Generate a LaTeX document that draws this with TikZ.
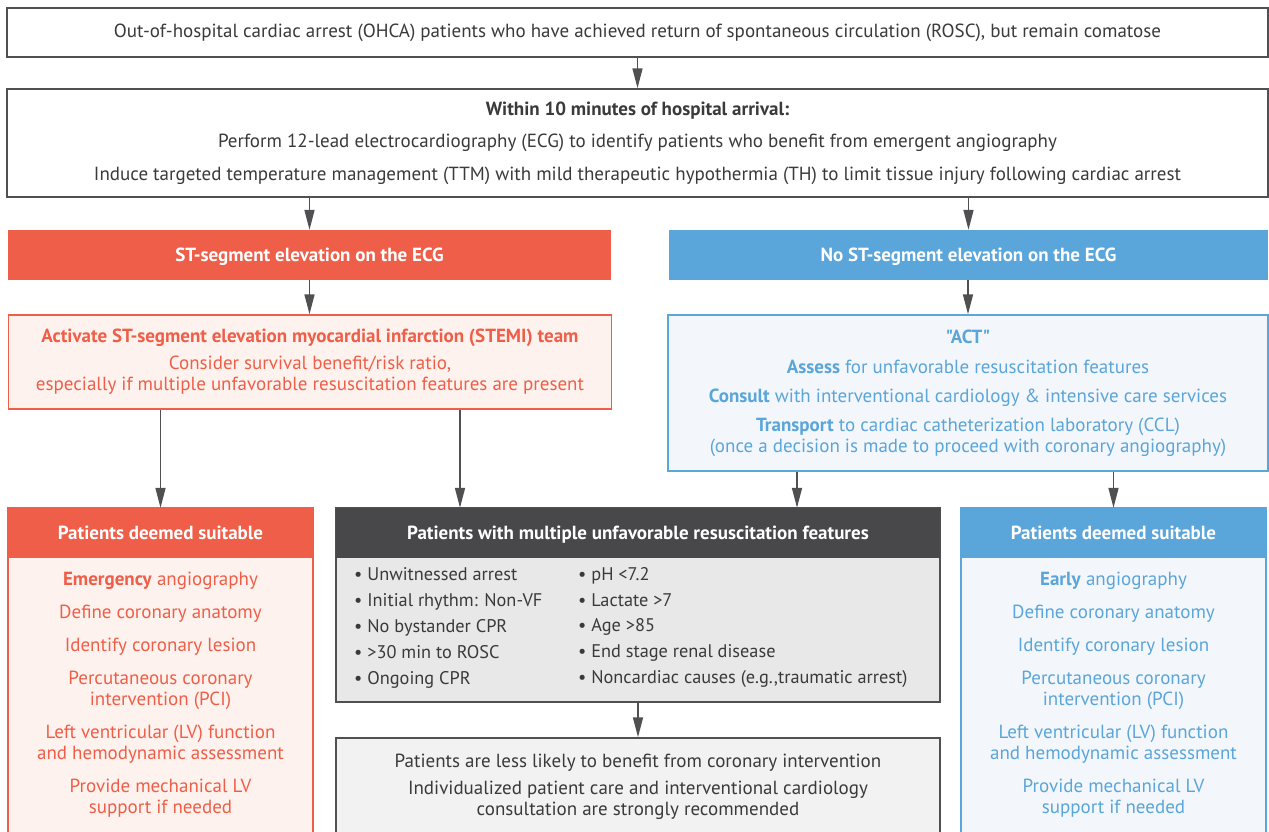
\documentclass[tikz,border=0pt]{standalone}
\usepackage{fontspec}
\setmainfont{PT Sans}[Ligatures=TeXOff]
\usetikzlibrary{arrows.meta,calc}
\definecolor{redc}{HTML}{EF5E48}
\definecolor{redl}{HTML}{FDF2ED}
\definecolor{bluec}{HTML}{5AA5D9}
\definecolor{bluel}{HTML}{F3F7FB}
\definecolor{darkh}{HTML}{48484A}
\definecolor{grayb}{HTML}{E8E8E9}
\definecolor{grayl}{HTML}{F1F2F1}
\definecolor{bordc}{HTML}{505052}
\definecolor{txtc}{HTML}{3A3A3A}
\begin{document}
\begin{tikzpicture}[x=1pt,y=-1pt,
  every node/.style={inner sep=0pt, font=\fontsize{19}{21}\selectfont},
  gbox/.style={draw=bordc, line width=1.5pt, fill=white, text=txtc, align=center},
  hdr/.style={text=white, font=\fontsize{19}{21}\selectfont\bfseries, align=center, text height=13pt, text depth=0pt},
  txt/.style={align=center},
  arr/.style={draw=bordc, line width=1.6pt, -{Triangle[length=20pt,width=10pt]}}]
\useasboundingbox (0,0) rectangle (1269,831);
\clip (0,0) rectangle (1269,831);
\fill[white] (0,0) rectangle (1269,831);

% top box
\node[gbox, minimum width=1261pt, minimum height=49pt] (top) at (637.5,32.5)
 {Out-of-hospital cardiac arrest (OHCA) patients who have achieved return of spontaneous circulation (ROSC), but remain comatose};

\node[gbox, minimum width=1261pt, minimum height=108pt, font=\fontsize{19}{32.5}\selectfont] (ten) at (637.5,143)
 {\textbf{Within 10 minutes of hospital arrival:}\\
  Perform 12-lead electrocardiography (ECG) to identify patients who benefit from emergent angiography\\
  Induce targeted temperature management (TTM) with mild therapeutic hypothermia (TH) to limit tissue injury following cardiac arrest};

% headers
\node[hdr, fill=redc, minimum width=603pt, minimum height=50pt] (sthead) at (309.5,255) {ST-segment elevation on the ECG};
\node[hdr, fill=bluec, minimum width=599pt, minimum height=50pt] (nosthead) at (968.5,255) {No ST-segment elevation on the ECG};

% STEMI box
\node[draw=redc, line width=1.5pt, fill=redl, text=redc, align=center, minimum width=603pt, minimum height=94pt] (stemi) at (310,362)
 {\textbf{Activate ST-segment elevation myocardial infarction (STEMI) team}\\[6pt]
  Consider survival benefit/risk ratio,\\
  especially if multiple unfavorable resuscitation features are present};

% ACT box
\node[draw=bluec, line width=1.5pt, fill=bluel, text=bluec, align=center, minimum width=600pt, minimum height=156pt] (act) at (968,393)
 {\textbf{"ACT"}\\[9pt]
  \textbf{Assess} for unfavorable resuscitation features\\[8pt]
  \textbf{Consult} with interventional cardiology \& intensive care services\\[8pt]
  \textbf{Transport} to cardiac catheterization laboratory (CCL)\\
  (once a decision is made to proceed with coronary angiography)};

% left suitable
\node[draw=redc, line width=1.5pt, fill=redl, minimum width=305pt, minimum height=340pt] (lsuit) at (160.5,678) {};
\node[hdr, fill=redc, minimum width=305pt, minimum height=50pt] (lhead) at (160.5,533) {Patients deemed suitable};
\node[txt, text=redc, anchor=north] (ltext) at (160.5,572)
 {\textbf{Emergency} angiography\\[12pt]
  Define coronary anatomy\\[12pt]
  Identify coronary lesion\\[12pt]
  Percutaneous coronary\\intervention (PCI)\\[12pt]
  Left ventricular (LV) function\\and hemodynamic assessment\\[12pt]
  Provide mechanical LV\\support if needed};

% right suitable
\node[draw=bluec, line width=1.5pt, fill=bluel, minimum width=305pt, minimum height=340pt] (rsuit) at (1113.5,678) {};
\node[hdr, fill=bluec, minimum width=305pt, minimum height=50pt] (rhead) at (1113.5,533) {Patients deemed suitable};
\node[txt, text=bluec, anchor=north] (rtext) at (1113.5,572)
 {\textbf{Early} angiography\\[12pt]
  Define coronary anatomy\\[12pt]
  Identify coronary lesion\\[12pt]
  Percutaneous coronary\\intervention (PCI)\\[12pt]
  Left ventricular (LV) function\\and hemodynamic assessment\\[12pt]
  Provide mechanical LV\\support if needed};

% gray features box
\node[draw=bordc, line width=1.5pt, fill=grayb, minimum width=604pt, minimum height=194pt] (feat) at (638,605) {};
\node[hdr, fill=darkh, minimum width=604pt, minimum height=50pt] (fhead) at (638,533) {Patients with multiple unfavorable resuscitation features};
\node[text=txtc, align=left, anchor=north west, font=\fontsize{18.3}{26.2}\selectfont] (fleft) at (354,567)
 {\textbullet\ Unwitnessed arrest\\
  \textbullet\ Initial rhythm: Non-VF\\
  \textbullet\ No bystander CPR\\
  \textbullet\ >30 min to ROSC\\
  \textbullet\ Ongoing CPR};
\node[text=txtc, align=left, anchor=north west, font=\fontsize{18.3}{25.8}\selectfont] (fright) at (578,567)
 {\textbullet\ pH <7.2\\
  \textbullet\ Lactate >7\\
  \textbullet\ Age >85\\
  \textbullet\ End stage renal disease\\
  \textbullet\ Noncardiac causes (e.g.,traumatic arrest)};

% bottom box
\node[draw=bordc, line width=1.5pt, fill=grayl, minimum width=604pt, minimum height=110pt] (less) at (638,793) {};
\node[txt, text=txtc, anchor=north] (lesstext) at (638,754)
 {Patients are less likely to benefit from coronary intervention\\[6pt]
  Individualized patient care and interventional cardiology\\
  consultation are strongly recommended};

% connectors
\coordinate (xa) at (460,0);
\coordinate (xb) at (797,0);
\draw[arr] (top.south -| ten.north) -- (ten.north);
\draw[arr] (ten.south -| sthead.north) -- (sthead.north);
\draw[arr] (ten.south -| nosthead.north) -- (nosthead.north);
\draw[arr] (sthead.south) -- (stemi.north -| sthead.south);
\draw[arr] (nosthead.south -| act.north) -- (act.north);
\draw[arr] (stemi.south -| lhead.north) -- (lhead.north);
\draw[arr] (stemi.south -| xa) -- (fhead.north -| xa);
\draw[arr] (act.south -| xb) -- (fhead.north -| xb);
\draw[arr] (act.south -| rhead.north) -- (rhead.north);
\draw[arr] (feat.south) -- (less.north);
\end{tikzpicture}
\end{document}
